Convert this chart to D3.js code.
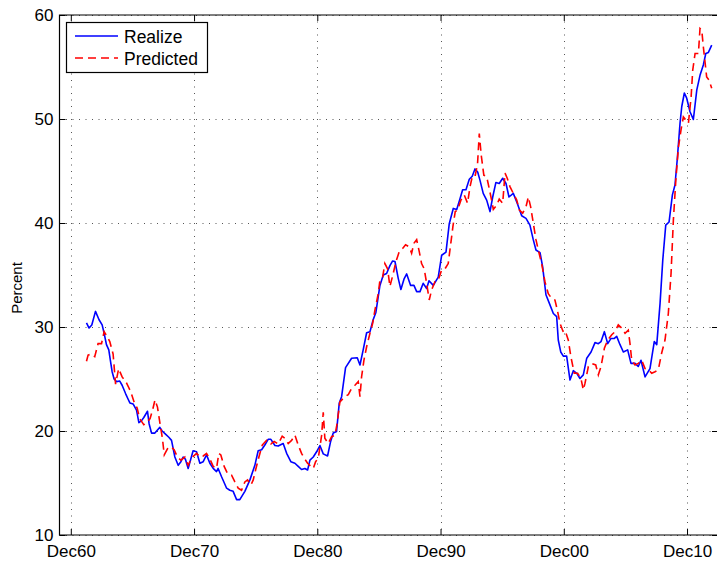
<!DOCTYPE html>
<html>
<head>
<meta charset="utf-8">
<script src="https://cdn.jsdelivr.net/npm/d3@7"></script>
<style>
  html, body { margin: 0; padding: 0; background: #fff; }
  svg { display: block; font-family: "Liberation Sans", Arial, Helvetica, sans-serif; }
</style>
</head>
<body>
<svg id="chart" width="717" height="565"></svg>
<script>
// Realized series (decimal year, percent)
const realizeYears = [
  1962.19,1962.40,1962.62,1962.92,1963.21,1963.46,1963.62,1963.81,1964.00,1964.14,
  1964.27,1964.43,1964.63,1964.89,1965.08,1965.36,1965.57,1965.71,1965.97,1966.25,
  1966.44,1966.66,1966.84,1967.14,1967.27,1967.47,1967.74,1967.95,1968.14,1968.33,
  1968.60,1968.87,1969.09,1969.36,1969.63,1969.85,1970.03,1970.21,1970.44,1970.84,
  1971.12,1971.39,1971.66,1971.93,1972.20,1972.47,1972.74,1972.87,1973.15,1973.56,
  1973.82,1974.09,1974.37,1974.63,1975.04,1975.45,1975.85,1976.12,1976.40,1976.66,
  1976.93,1977.15,1977.48,1977.74,1978.15,1978.43,1978.77,1979.10,1979.37,1979.64,
  1979.91,1980.13,1980.32,1980.59,1980.86,1981.13,1981.40,1981.75,1982.00,1982.21,
  1982.48,1982.70,1982.89,1983.21,1983.70,1984.16,1984.38,1984.64,1984.92,1985.19,
  1985.45,1985.67,1986.00,1986.27,1986.54,1986.81,1987.03,1987.22,1987.48,1987.70,
  1987.95,1988.17,1988.49,1988.76,1988.98,1989.25,1989.51,1989.79,1989.98,1990.33,
  1990.73,1991.01,1991.36,1991.62,1991.95,1992.23,1992.49,1992.71,1992.98,1993.25,
  1993.49,1993.71,1993.93,1994.12,1994.38,1994.66,1994.93,1995.15,1995.41,1995.68,
  1995.96,1996.23,1996.47,1996.82,1997.14,1997.50,1997.85,1998.17,1998.44,1998.66,
  1998.99,1999.20,1999.47,1999.74,2000.07,2000.34,2000.47,2000.67,2000.88,2001.15,
  2001.42,2001.69,2001.97,2002.23,2002.50,2002.78,2003.13,2003.45,2003.72,2003.94,
  2004.21,2004.48,2004.75,2005.02,2005.21,2005.48,2005.75,2006.10,2006.37,2006.70,
  2006.96,2007.18,2007.51,2007.91,2008.26,2008.46,2008.73,2008.95,2009.19,2009.46,
  2009.73,2009.94,2010.13,2010.35,2010.49,2010.70,2010.89,2011.16,2011.43,2011.71,
  2011.97,2012.24,2012.44,2012.65,2012.92
];
const realizeValues = [
  30.4,29.9,30.2,31.5,30.7,30.2,29.4,28.3,27.8,26.7,
  25.7,25.0,24.75,24.8,24.4,23.6,23.05,22.7,22.6,22.0,
  20.8,21.0,21.3,21.9,20.7,19.8,19.8,20.1,20.35,20.0,
  19.7,19.4,19.1,17.5,16.7,17.05,17.5,17.3,16.4,18.1,
  18.0,16.9,17.05,17.7,16.9,16.4,16.1,16.4,15.6,14.5,
  14.3,14.2,13.4,13.4,14.2,15.3,16.7,18.1,18.2,18.65,
  19.2,19.2,18.6,18.55,18.8,17.85,17.05,16.9,16.6,16.3,
  16.4,16.25,17.2,17.5,18.0,18.6,17.8,17.6,19.0,19.8,
  19.95,22.7,23.3,26.1,27.0,27.05,26.35,27.8,29.45,29.55,
  30.7,31.4,34.0,35.0,35.15,35.9,36.35,36.3,34.7,33.6,
  34.6,35.1,34.0,34.0,33.4,33.4,34.2,33.7,34.45,34.0,
  34.8,36.9,37.2,39.9,41.4,41.3,42.3,43.2,43.2,44.2,
  44.5,45.2,44.9,44.1,42.85,42.2,41.1,42.5,43.9,43.8,
  44.3,43.8,42.5,42.85,41.9,40.7,40.45,39.8,38.4,37.4,
  37.15,35.8,33.1,32.3,31.3,31.0,28.75,27.6,27.2,27.2,
  24.9,25.8,25.55,25.05,25.4,27.0,27.6,28.5,28.4,28.6,
  29.55,28.4,28.9,28.9,29.1,28.3,27.6,27.8,26.5,26.5,
  26.2,26.8,25.2,26.0,28.6,28.3,32.3,36.45,39.8,40.1,
  42.7,43.65,46.2,49.6,51.2,52.5,52.0,50.7,49.95,52.8,
  54.2,55.2,56.3,56.4,57.1
];

// Predicted series (decimal year, percent)
const predictedYears = [
  1962.19,1962.32,1962.60,1962.86,1963.13,1963.41,1963.62,1963.81,1964.08,1964.35,
  1964.55,1964.80,1965.08,1965.36,1965.57,1965.80,1966.05,1966.30,1966.50,1966.84,
  1967.10,1967.35,1967.55,1967.75,1967.95,1968.15,1968.35,1968.50,1968.77,1969.04,
  1969.30,1969.57,1969.85,1970.17,1970.44,1970.71,1971.12,1971.39,1971.66,1971.93,
  1972.20,1972.47,1972.74,1972.93,1973.09,1973.36,1973.64,1973.96,1974.23,1974.50,
  1974.77,1975.04,1975.26,1975.53,1975.72,1975.91,1976.18,1976.45,1976.80,1977.15,
  1977.42,1977.74,1978.07,1978.29,1978.56,1978.83,1979.10,1979.37,1979.64,1979.85,
  1980.13,1980.40,1980.59,1980.78,1981.00,1981.27,1981.40,1981.53,1981.80,1982.08,
  1982.35,1982.53,1982.75,1983.16,1983.43,1983.70,1983.97,1984.24,1984.38,1984.51,
  1984.70,1984.92,1985.19,1985.41,1985.59,1985.86,1986.00,1986.22,1986.40,1986.62,
  1986.81,1987.08,1987.30,1987.57,1987.84,1988.08,1988.38,1988.57,1988.76,1988.98,
  1989.19,1989.38,1989.59,1989.79,1990.00,1990.19,1990.46,1990.73,1991.01,1991.28,
  1991.54,1991.75,1991.92,1992.11,1992.30,1992.57,1992.84,1993.11,1993.31,1993.52,
  1993.74,1993.92,1994.06,1994.22,1994.43,1994.66,1994.87,1995.06,1995.20,1995.47,
  1995.68,1995.96,1996.15,1996.33,1996.55,1996.82,1997.10,1997.31,1997.58,1997.85,
  1998.04,1998.23,1998.44,1998.66,1998.85,1999.12,1999.39,1999.66,1999.93,2000.20,
  2000.39,2000.61,2000.85,2001.01,2001.28,2001.50,2001.77,2002.04,2002.31,2002.50,
  2002.64,2002.91,2003.18,2003.51,2003.72,2003.94,2004.21,2004.48,2004.81,2005.07,
  2005.34,2005.62,2005.89,2006.15,2006.29,2006.43,2006.70,2006.96,2007.24,2007.51,
  2007.78,2008.05,2008.32,2008.59,2008.86,2009.13,2009.40,2009.62,2009.81,2010.01,
  2010.22,2010.43,2010.62,2010.82,2011.03,2011.25,2011.38,2011.57,2011.84,2011.97,
  2012.11,2012.24,2012.51,2012.70,2012.92
];
const predictedValues = [
  26.7,27.3,27.4,27.15,28.4,28.4,29.55,29.2,28.6,27.4,
  24.5,26.0,25.2,24.8,24.3,23.7,22.8,22.2,21.2,20.6,
  20.8,21.2,22.0,23.0,22.3,20.75,19.3,17.7,18.3,18.5,
  18.2,17.5,17.2,17.5,16.7,17.4,17.85,17.5,17.6,17.85,
  17.3,16.6,16.4,17.85,17.7,16.6,15.9,15.75,15.1,14.5,
  14.3,15.1,15.3,14.8,15.3,16.25,17.5,18.65,19.1,18.75,
  19.0,18.75,19.5,19.3,18.8,19.1,19.6,18.65,17.85,17.4,
  16.9,16.6,16.4,17.05,17.4,19.6,21.8,19.3,18.8,19.45,
  19.6,20.75,22.8,23.3,23.5,24.1,24.4,24.75,23.3,25.2,
  26.8,28.1,29.4,30.35,31.6,33.2,34.5,34.8,36.1,35.6,
  33.9,35.15,36.3,37.25,37.55,37.9,37.7,37.1,38.05,38.4,
  37.25,36.1,35.6,34.2,32.6,33.55,34.35,34.5,35.5,35.6,
  36.1,38.05,39.65,41.1,41.25,42.2,42.7,41.9,43.5,44.6,
  44.6,45.7,48.6,46.5,44.6,44.45,43.3,42.2,41.3,41.7,
  42.3,41.9,44.8,44.3,43.5,42.85,42.2,41.25,40.95,41.55,
  42.5,41.55,40.0,38.4,37.4,36.1,34.35,33.2,32.75,32.6,
  31.65,30.35,29.6,29.7,28.75,27.1,25.55,25.55,25.05,23.95,
  24.6,26.2,26.5,26.35,25.4,26.2,27.95,28.75,29.25,29.55,
  30.2,29.9,29.4,29.7,28.4,26.8,26.35,26.5,26.8,26.0,
  25.9,25.55,25.7,25.9,27.5,28.75,31.3,35.15,40.3,44.15,
  47.3,48.95,50.2,49.9,49.6,52.15,54.7,56.3,56.3,58.7,
  58.55,56.95,54.05,53.75,52.95
];

// Axis ticks
const xTickYears = [1960.917, 1970.917, 1980.917, 1990.917, 2000.917, 2010.917];
const xTickLabels = ["Dec60", "Dec70", "Dec80", "Dec90", "Dec00", "Dec10"];
const yTicks = [10, 20, 30, 40, 50, 60];
const seriesNames = ["Realize", "Predicted"];

const svg = d3.select("#chart");
const plotLeft = 59.5, plotRight = 718, plotTop = 15, plotBottom = 535;

const x = d3.scaleLinear().domain([1960, 2013.43]).range([plotLeft, plotRight]);
const y = d3.scaleLinear().domain([10, 60]).range([plotBottom, plotTop]);

// Dotted grid
const grid = svg.append("g")
  .attr("stroke", "#555").attr("stroke-width", 1).attr("stroke-dasharray", "1,5.5");
xTickYears.forEach(t => {
  const px = Math.round(x(t)) + 0.5;
  grid.append("line").attr("x1", px).attr("x2", px).attr("y1", plotTop).attr("y2", plotBottom);
});
yTicks.forEach(t => {
  const py = Math.round(y(t)) + 0.5;
  grid.append("line").attr("x1", plotLeft).attr("x2", plotRight).attr("y1", py).attr("y2", py);
});

// Axes with inward ticks, as in the plot box
const xAxisB = d3.axisBottom(x).tickValues(xTickYears)
  .tickFormat((d, i) => xTickLabels[i]).tickSize(-6).tickPadding(10);
const xAxisT = d3.axisTop(x).tickValues(xTickYears).tickFormat("").tickSize(-6);
const yAxisL = d3.axisLeft(y).tickValues(yTicks).tickSize(-6).tickPadding(6);
const yAxisR = d3.axisRight(y).tickValues(yTicks).tickFormat("").tickSize(-6);

function style(g) {
  g.select(".domain").remove();
  g.selectAll(".tick line").attr("stroke", "#000");
  g.selectAll(".tick text").attr("fill", "#000").style("font-size", "17px")
    .style("font-family", "'Liberation Sans', Arial, Helvetica, sans-serif");
}
svg.append("g").attr("transform", `translate(0,${plotBottom})`).call(xAxisB).call(style);
svg.append("g").attr("transform", `translate(0,${plotTop})`).call(xAxisT).call(style);
svg.append("g").attr("transform", `translate(${plotLeft},0)`).call(yAxisL).call(style);
svg.append("g").attr("transform", `translate(${plotRight},0)`).call(yAxisR).call(style);

// Series lines
svg.append("clipPath").attr("id", "plotClip")
  .append("rect").attr("x", plotLeft).attr("y", plotTop)
  .attr("width", plotRight - plotLeft).attr("height", plotBottom - plotTop);

const line = d3.line().x(d => x(d[0])).y(d => y(d[1]));
const realize = realizeYears.map((t, i) => [t, realizeValues[i]]);
const predicted = predictedYears.map((t, i) => [t, predictedValues[i]]);

const plot = svg.append("g").attr("clip-path", "url(#plotClip)");
plot.append("path").datum(realize).attr("d", line)
  .attr("fill", "none").attr("stroke", "#0000ff").attr("stroke-width", 1.6)
  .attr("stroke-linejoin", "round");
plot.append("path").datum(predicted).attr("d", line)
  .attr("fill", "none").attr("stroke", "#ff0000").attr("stroke-width", 1.6)
  .attr("stroke-dasharray", "8,5");

// Plot box
svg.append("path")
  .attr("d", `M${plotLeft},${plotTop}H${plotRight}V${plotBottom}H${plotLeft}Z`)
  .attr("fill", "none").attr("stroke", "#000").attr("stroke-width", 1.2);

// Y label
svg.append("text")
  .attr("transform", "translate(22,288) rotate(-90)")
  .attr("text-anchor", "middle").style("font-size", "15px").text("Percent");

// Legend
const legend = svg.append("g");
legend.append("rect").attr("x", 66.5).attr("y", 22.5).attr("width", 141).attr("height", 50)
  .attr("fill", "#fff").attr("stroke", "#000").attr("stroke-width", 1.2);
const legendStyles = [
  { color: "#0000ff", dash: null },
  { color: "#ff0000", dash: "8,5" }
];
seriesNames.forEach((name, i) => {
  const ly = 36 + i * 22;
  legend.append("line").attr("x1", 75).attr("x2", 118).attr("y1", ly).attr("y2", ly)
    .attr("stroke", legendStyles[i].color).attr("stroke-width", 1.6)
    .attr("stroke-dasharray", legendStyles[i].dash);
  legend.append("text").attr("x", 124).attr("y", ly + 6.5)
    .style("font-size", "17.5px").text(name);
});
</script>
</body>
</html>
